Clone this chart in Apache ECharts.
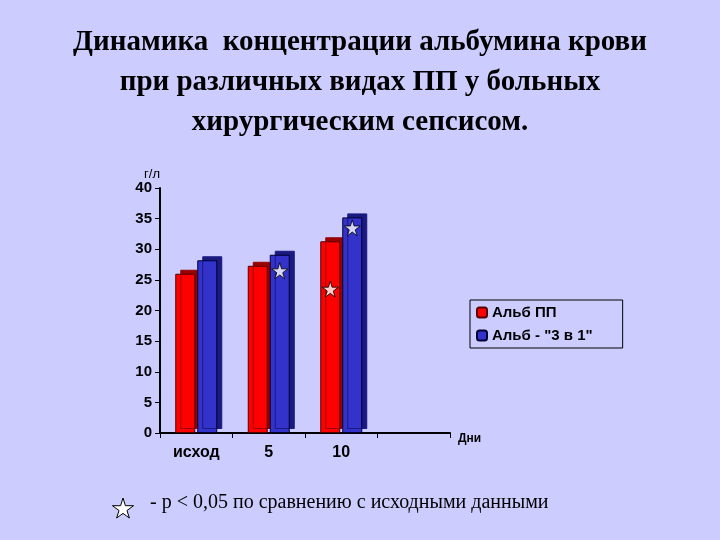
<!DOCTYPE html>
<html><head><meta charset="utf-8">
<script src="https://cdn.jsdelivr.net/npm/echarts@6/dist/echarts.min.js"></script>
<style>html,body{margin:0;padding:0;background:#ccccff}#c{width:720px;height:540px}</style>
</head><body><div id="c"></div>
<script>
const categories = ['исход', '5', '10', ''];
const albPP = [26, 27.3, 31.3, null];
const alb3v1 = [28.2, 29.1, 35.2, null];
const starsPP = [null, null, 23.5, null];
const stars3v1 = [null, 26.5, 33.5, null];
const yTicks = [0, 5, 10, 15, 20, 25, 30, 35, 40];

const starPts = [[50,0],[61,35],[98,35],[68,57],[79,91],[50,70],[21,91],[32,57],[2,35],[39,35]];
const starPath = 'path://M' + starPts.map(p => p.join(',')).join(' L') + ' Z';
const chart = echarts.init(document.getElementById('c'));
chart.setOption({
  backgroundColor: '#ccccff',
  title: {
    text: 'Динамика  концентрации альбумина крови\nпри различных видах ПП у больных\nхирургическим сепсисом.',
    left: 'center', top: 18,
    textStyle: {fontFamily: 'Liberation Serif', fontSize: 29, fontWeight: 'bold', color: '#000', lineHeight: 40}
  },
  legend: {
    orient: 'vertical', left: 470, top: 300, itemWidth: 10, itemHeight: 10, itemGap: 8,
    backgroundColor: '#ccccff', borderColor: '#000', borderWidth: 1, padding: [5, 30, 5, 6],
    data: ['Альб ПП', 'Альб - "3 в 1"'],
    textStyle: {fontFamily: 'Liberation Sans', fontWeight: 'bold', fontSize: 15, color: '#000'}
  },
  grid: {left: 160, right: 270, top: 188, bottom: 107},
  xAxis: {
    type: 'category', data: categories, name: 'Дни', nameGap: 8,
    nameTextStyle: {fontFamily: 'Liberation Sans', fontWeight: 'bold', fontSize: 12, color: '#000', verticalAlign: 'top'},
    axisLine: {lineStyle: {color: '#000', width: 2}},
    axisTick: {show: true, lineStyle: {color: '#000'}},
    axisLabel: {fontFamily: 'Liberation Sans', fontWeight: 'bold', fontSize: 16, color: '#000', margin: 12}
  },
  yAxis: {
    type: 'value', min: 0, max: 40, interval: 5, name: 'г/л', nameGap: 6,
    nameTextStyle: {fontFamily: 'Liberation Sans', fontSize: 13, color: '#000', align: 'right'},
    axisLine: {show: true, lineStyle: {color: '#000', width: 2}},
    axisTick: {show: true, lineStyle: {color: '#000'}},
    splitLine: {show: false},
    axisLabel: {fontFamily: 'Liberation Sans', fontWeight: 'bold', fontSize: 15, color: '#000',
      formatter: v => yTicks.includes(v) ? String(v) : ''}
  },
  series: [
    {name: 'Альб ПП', type: 'bar', data: albPP, barWidth: 20, barGap: '10%',
     itemStyle: {color: '#ff0000', borderColor: '#550000', borderWidth: 1, shadowColor: '#990000', shadowOffsetX: 5, shadowOffsetY: -4}},
    {name: 'Альб - "3 в 1"', type: 'bar', data: alb3v1, barWidth: 20,
     itemStyle: {color: '#3333cc', borderColor: '#000033', borderWidth: 1, shadowColor: '#1a1a80', shadowOffsetX: 5, shadowOffsetY: -4}},
    {type: 'scatter', data: starsPP.map((v, i) => [i, v]), symbol: starPath, symbolSize: 16,
     symbolOffset: [-11, 0], itemStyle: {color: '#fff', borderColor: '#000', borderWidth: 1}, z: 5, silent: true},
    {type: 'scatter', data: stars3v1.map((v, i) => [i, v]), symbol: starPath, symbolSize: 16,
     symbolOffset: [11, 0], itemStyle: {color: '#fff', borderColor: '#000', borderWidth: 1}, z: 5, silent: true}
  ],
  graphic: [
    {type: 'polygon', shape: {points: starPts.map(p => [112 + p[0] * 0.22, 498 + p[1] * 0.22])},
     style: {fill: '#fff', stroke: '#000', lineWidth: 1}},
    {type: 'text', left: 150, top: 493,
     style: {text: '- p < 0,05 по сравнению с исходными данными', font: '20px "Liberation Serif"', fill: '#000'}}
  ]
});
</script></body></html>
